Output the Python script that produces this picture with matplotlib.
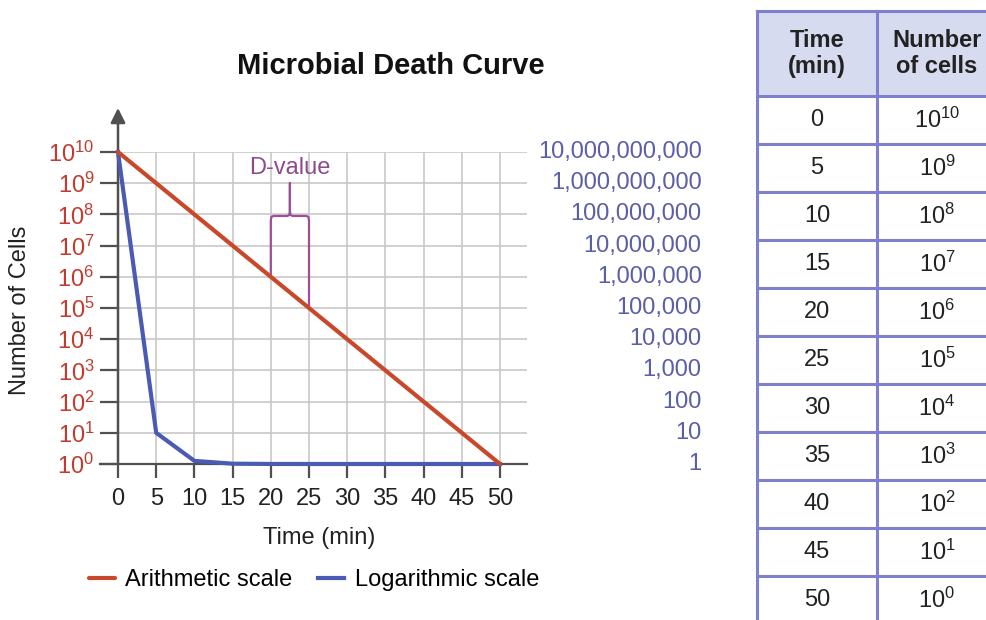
import numpy as np
import matplotlib.pyplot as plt
from matplotlib.patches import Rectangle

plt.rcParams['font.family'] = ['Liberation Sans', 'DejaVu Sans']

# survivors every 5 minutes, as powers of ten
times = [0, 5, 10, 15, 20, 25, 30, 35, 40, 45, 50]
log_cells = [10, 9, 8, 7, 6, 5, 4, 3, 2, 1, 0]
cells = 10.0 ** np.array(log_cells)

RED = '#c9482b'
BLUE = '#4b5bb3'
RED_TXT = '#c23b2e'
BLUE_TXT = '#5b5ea8'
PURPLE = '#9c4e99'
AXIS = '#505050'
GRID = '#c8c8c8'
BORDER = '#7e80cf'
HEAD = '#d6dbef'

W, H = 986, 620
def px_rect(l, t, r, b):
    return [l / W, 1 - b / H, (r - l) / W, (b - t) / H]

fig = plt.figure(figsize=(W / 100, H / 100), dpi=100)

# ---- death curve ----
ax = fig.add_axes(px_rect(100, 152, 527, 464))
ax.set_xlim(-18 / 7.64, 409 / 7.64)
ax.set_ylim(0, 10)
for s in ['left', 'right', 'top']:
    ax.spines[s].set_visible(False)
ax.spines['bottom'].set_color(AXIS)
ax.spines['bottom'].set_linewidth(1.6)

ax.set_xticks(times)
ax.set_xticklabels([str(t) for t in times])
ax.tick_params(axis='x', direction='out', length=10, width=1.6, color=AXIS,
               pad=7, labelsize=17, labelcolor='#222222')
ax.set_yticks(log_cells)
ax.set_yticklabels([r'$\mathregular{10^{%d}}$' % e for e in log_cells])
ax.tick_params(axis='y', direction='in', length=13, width=1.6, color=AXIS,
               pad=4, labelsize=17, labelcolor=RED_TXT)
ax.grid(True, color=GRID, lw=1.2)
ax.set_axisbelow(True)

# y axis with arrow head
ax.annotate('', xy=(0, 356 / 31.2), xytext=(0, 0),
            arrowprops=dict(arrowstyle='-|>', color=AXIS, lw=1.8, mutation_scale=22,
                            shrinkA=0, shrinkB=0),
            annotation_clip=False)

# log plot of counts, and the same counts on a linear axis (10^10 = top)
line_a, = ax.plot(times, log_cells, color=RED, lw=3, zorder=4, clip_on=False,
                  solid_capstyle='round')
line_l, = ax.plot(times, cells / 1e9, color=BLUE, lw=3, zorder=3, clip_on=False,
                  solid_joinstyle='round')

# linear labels on the right
for e, n in zip(log_cells, cells):
    ax.text(76.4, e, f'{int(n):,}', ha='right', va='center', fontsize=17,
            color=BLUE_TXT, clip_on=False)

# D-value brace between 20 and 25 min
t0, t1 = times[4], times[5]
y0, y1 = log_cells[4], log_cells[5]
yb, ym, r = 7.95, (t0 + t1) / 2, 0.35
bx = [t0, t0, t0 + 0.08, t0 + r, ym - r, ym - 0.08, ym, ym,
      ym, ym + 0.08, ym + r, t1 - r, t1 - 0.08, t1, t1]
by = [y0, yb - 0.15, yb - 0.03, yb, yb, yb + 0.03, yb + 0.15, 9.0,
      yb + 0.15, yb + 0.03, yb, yb, yb - 0.03, yb - 0.15, y1]
ax.plot(bx, by, color=PURPLE, lw=1.6, zorder=2)
ax.text(ym, 9.5, 'D-value', ha='center', va='center', fontsize=17, color='#8e4a8c')

fig.text(391 / W, 1 - 66 / H, 'Microbial Death Curve', ha='center', va='center',
         fontsize=21, fontweight='bold', color='#111111')
fig.text(20 / W, 1 - 310 / H, 'Number of Cells', rotation=90, ha='center',
         va='center', fontsize=17, color='#222222')
fig.text(319 / W, 1 - 538 / H, 'Time (min)', ha='center', va='center',
         fontsize=17, color='#222222')
fig.legend([line_a, line_l], ['Arithmetic scale', 'Logarithmic scale'],
           loc='center', bbox_to_anchor=(314 / W, 1 - 580 / H), ncol=2,
           frameon=False, fontsize=17, handlelength=1.1, handletextpad=0.45,
           columnspacing=1.1)

# ---- table ----
tx = fig.add_axes(px_rect(757, 11, 997, 620))
hdr = 85 / 48
tx.set_xlim(0, 2)
tx.set_ylim((620 - 11) / 48, 0)
tx.axis('off')
tx.add_patch(Rectangle((0, 0), 2, hdr, facecolor=HEAD, edgecolor='none', zorder=0))
for c in [0, 1, 2]:
    tx.plot([c, c], [0, 20], color=BORDER, lw=2.2, clip_on=False)
for i in range(len(times) + 1):
    tx.plot([0, 2], [hdr + i, hdr + i], color=BORDER, lw=2.2)
tx.plot([0, 2], [0, 0], color=BORDER, lw=2.2, clip_on=False)
tx.text(0.5, hdr / 2, 'Time\n(min)', ha='center', va='center', fontsize=17,
        fontweight='bold', linespacing=1.2, color='#222222')
tx.text(1.5, hdr / 2, 'Number\nof cells', ha='center', va='center', fontsize=17,
        fontweight='bold', linespacing=1.2, color='#222222')
for i, (t, e) in enumerate(zip(times, log_cells)):
    yc = hdr + i + 0.5
    tx.text(0.5, yc, str(t), ha='center', va='center', fontsize=17, color='#222222')
    tx.text(1.5, yc, r'$\mathregular{10^{%d}}$' % e, ha='center', va='center',
            fontsize=17, color='#222222')

fig.savefig('out.png', dpi=100)
